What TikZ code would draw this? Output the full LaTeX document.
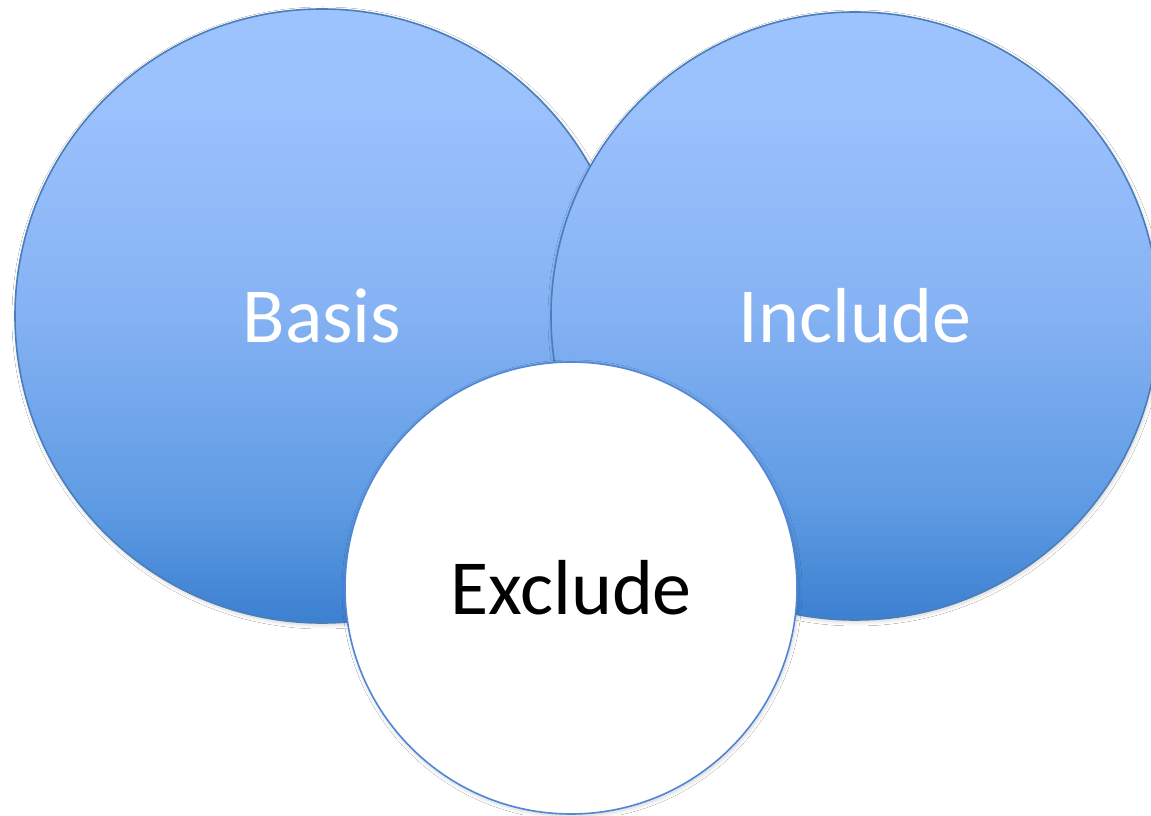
\documentclass[tikz,border=0pt]{standalone}
\usepackage{fontspec}
\setmainfont{Carlito}
\usetikzlibrary{shadows.blur}
\definecolor{vtop}{RGB}{157,195,255}
\definecolor{vhi}{RGB}{155,193,253}
\definecolor{vmid}{RGB}{134,179,244}
\definecolor{vlow}{RGB}{96,156,228}
\definecolor{vbot}{RGB}{60,128,208}
\definecolor{vedge}{RGB}{74,126,187}
\definecolor{wedge}{RGB}{80,134,212}
\pgfdeclareverticalshading{vennshade}{100bp}{color(0bp)=(vbot); color(25bp)=(vbot); color(35bp)=(vlow); color(51bp)=(vmid); color(67bp)=(vhi); color(75bp)=(vtop); color(100bp)=(vtop)}
\tikzset{
  softshadow/.style={blur shadow={shadow xshift=1pt, shadow yshift=-2pt, shadow opacity=18, shadow blur radius=4pt, shadow blur steps=8}},
  venn/.style={circle, inner sep=0pt, draw=vedge, line width=1.6pt, shading=vennshade,
    softshadow, text=white, font=\fontsize{78}{90}\selectfont},
  vennwhite/.style={circle, inner sep=0pt, draw=wedge, line width=1.6pt, fill=white,
    softshadow, text=black, font=\fontsize{78}{90}\selectfont}
}
\begin{document}
\begin{tikzpicture}[x=1pt,y=1pt]
\useasboundingbox (0,0) rectangle (1151,815);
\fill[white] (0,0) rectangle (1151,815);
\node[venn, minimum size=614pt] (basis) at (322,499) {Basis};
\node[venn, minimum size=608pt] (include) at (855,499) {Include};
\node[vennwhite, minimum size=452pt] (exclude) at (571,227) {Exclude};
\end{tikzpicture}
\end{document}
